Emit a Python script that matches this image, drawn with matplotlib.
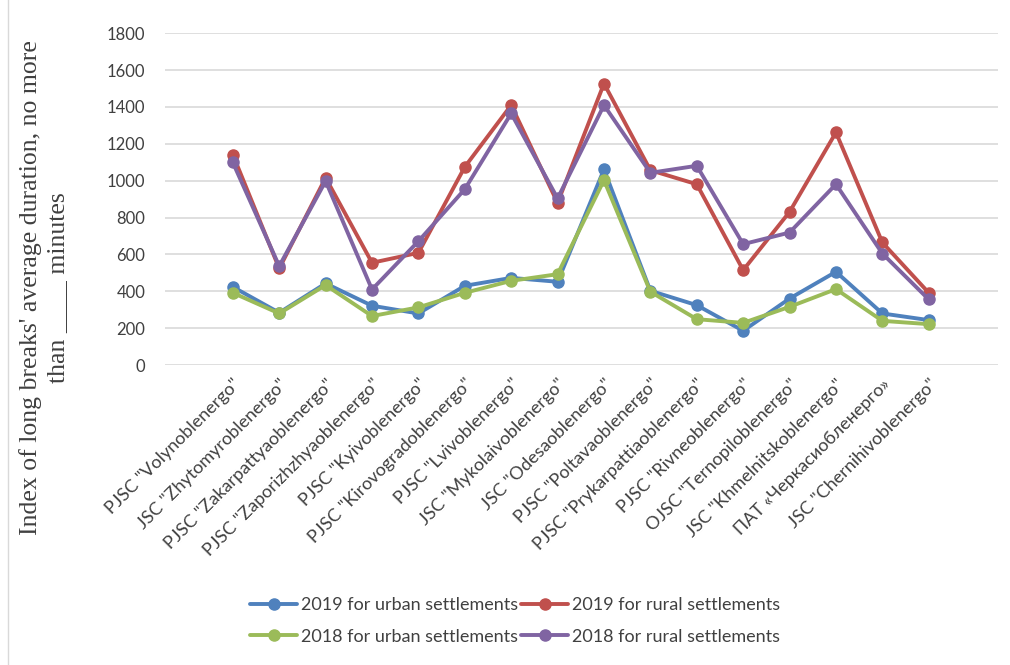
import numpy as np
import matplotlib
matplotlib.use("Agg")
import matplotlib.pyplot as plt
from matplotlib.lines import Line2D

companies = ['PJSC "Volynoblenergo"', 'JSC "Zhytomyroblenergo"', 'PJSC "Zakarpattyaoblenergo"',
             'PJSC "Zaporizhzhyaoblenergo"', 'PJSC "Kyivoblenergo"', 'PJSC "Kirovogradoblenergo"',
             'PJSC "Lvivoblenergo"', 'JSC "Mykolaivoblenergo"', 'JSC "Odesaoblenergo"',
             'PJSC "Poltavaoblenergo"', 'PJSC "Prykarpattiaoblenergo"', 'PJSC "Rivneoblenergo"',
             'OJSC "Ternopiloblenergo"', 'JSC "Khmelnitskoblenergo"', 'ПАТ «Черкасиобленерго»',
             'JSC "Chernihivoblenergo"']

urban_2019 = [424, 284, 443, 322, 280, 430, 473, 452, 1061, 403, 325, 186, 361, 506, 280, 244]
rural_2019 = [1142, 524, 1016, 555, 609, 1075, 1410, 880, 1527, 1057, 981, 515, 831, 1262, 665, 392]
urban_2018 = [392, 280, 434, 266, 313, 392, 457, 493, 1003, 398, 249, 229, 316, 412, 240, 222]
rural_2018 = [1099, 537, 998, 410, 672, 954, 1365, 904, 1410, 1043, 1081, 656, 719, 981, 605, 356]

plt.rcParams['font.family'] = ['Lato', 'DejaVu Sans']

fig = plt.figure(figsize=(10.1, 6.65), dpi=100)
ax = fig.add_axes([0.163, 0.451, 0.825, 0.499])

x = np.arange(len(companies))
series = [
    ("2019 for urban settlements", urban_2019, "#4F81BD"),
    ("2019 for rural settlements", rural_2019, "#C0504D"),
    ("2018 for urban settlements", urban_2018, "#9BBB59"),
    ("2018 for rural settlements", rural_2018, "#8064A2"),
]
lines = {}
for label, vals, col in series:
    ln, = ax.plot(x, vals, color=col, lw=2.8, marker='o', ms=8, label=label,
                  solid_capstyle='round', clip_on=False)
    lines[label] = ln

ax.set_ylim(0, 1800)
ax.set_yticks(np.arange(0, 1801, 200))
ax.set_xlim(-1.47, 16.49)
ax.set_xticks(x)
ax.set_xticklabels(companies, rotation=45, ha='right', rotation_mode='anchor', fontsize=13,
                   color='#404040')
ax.tick_params(axis='y', labelsize=12, labelcolor='#404040', length=0, pad=14)
ax.tick_params(axis='x', length=0, pad=8)
ax.grid(axis='y', color='#D9D9D9', lw=1.2)
ax.set_axisbelow(True)
for s in ax.spines.values():
    s.set_visible(False)

# chart frame edge on the left
fig.add_artist(Line2D([0.008, 0.008], [0.0, 1.0], transform=fig.transFigure,
                      color='#D9D9D9', lw=1))

fig.text(0.044, 0.567, "Index of long breaks' average duration, no more\nthan ____ minutes",
         rotation=90, ha='center', va='center', ma='center', fontsize=18.5,
         family='Liberation Serif', color='#404040', linespacing=1.3)

order = ["2019 for urban settlements", "2018 for urban settlements",
         "2019 for rural settlements", "2018 for rural settlements"]
fig.legend([lines[k] for k in order], order, ncol=2, frameon=False,
           loc='center', bbox_to_anchor=(0.51, 0.066), fontsize=13,
           handlelength=2.6, columnspacing=0.2, handletextpad=0.2, labelspacing=0.85,
           labelcolor='#404040')

fig.savefig("out.png", dpi=100)
